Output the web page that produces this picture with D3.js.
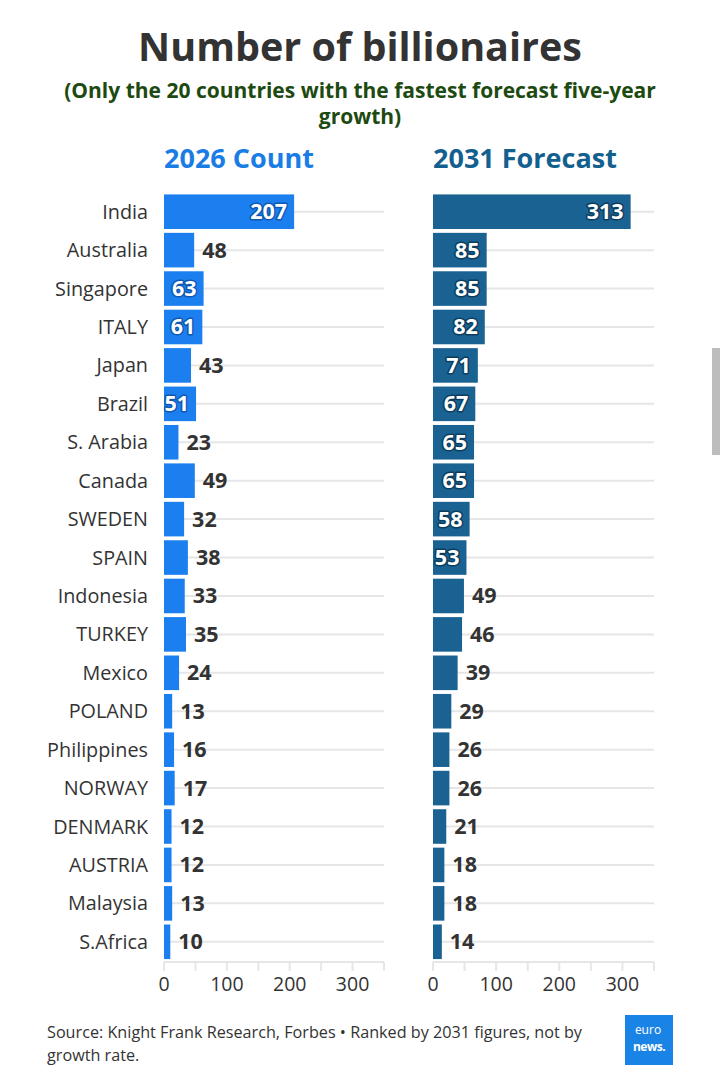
<!DOCTYPE html>
<html><head><meta charset="utf-8">
<script src="https://cdn.jsdelivr.net/npm/d3@7"></script>
<style>
html,body{margin:0;padding:0;background:#fff;}
text{font-family:"Open Sans",sans-serif;}
</style></head>
<body><svg id="c" width="720" height="1091"></svg>
<script>
const countries = ["India","Australia","Singapore","ITALY","Japan","Brazil","S. Arabia","Canada","SWEDEN","SPAIN","Indonesia","TURKEY","Mexico","POLAND","Philippines","NORWAY","DENMARK","AUSTRIA","Malaysia","S.Africa"];
const count2026 = [207,48,63,61,43,51,23,49,32,38,33,35,24,13,16,17,12,12,13,10];
const forecast2031 = [313,85,85,82,71,67,65,65,58,53,49,46,39,29,26,26,21,18,18,14];
const tickValues = [0,100,200,300];
const minorTicks = [0,50,100,150,200,250,300,350];

const svg = d3.select("#c");
svg.append("rect").attr("width",720).attr("height",1091).attr("fill","#fff");

// title
svg.append("text").attr("x",360).attr("y",61).attr("text-anchor","middle")
  .attr("font-size",39.5).attr("font-weight",700).attr("fill","#333").text("Number of billionaires");
svg.append("text").attr("x",360).attr("y",98).attr("text-anchor","middle")
  .attr("font-size",21).attr("font-weight",700).attr("fill","#1d4a10").text("(Only the 20 countries with the fastest forecast five-year");
svg.append("text").attr("x",360).attr("y",124).attr("text-anchor","middle")
  .attr("font-size",21).attr("font-weight",700).attr("fill","#1d4a10").text("growth)");

const y = d3.scaleBand().domain(countries).range([192.5,961]).paddingInner(0.1).paddingOuter(0.05);

const panels = [
  {x0:164, x1:384, data:count2026, color:"#1c7ff0", halo:"#0f58b0", title:"2026 Count", tcolor:"#1a7de6", labels:true},
  {x0:433, x1:654, data:forecast2031, color:"#1a6292", halo:"#0c3d5e", title:"2031 Forecast", tcolor:"#13608f", labels:false}
];

panels.forEach(p=>{
  const x = d3.scaleLinear().domain([0,350]).range([p.x0,p.x1]);
  const g = svg.append("g");
  g.append("text").attr("x",p.x0).attr("y",168).attr("font-size",27).attr("font-weight",700)
    .attr("fill",p.tcolor).text(p.title);
  // grid lines
  g.selectAll(".grid").data(countries).join("line")
    .attr("x1",p.x0).attr("x2",p.x1)
    .attr("y1",d=>y(d)+y.bandwidth()/2).attr("y2",d=>y(d)+y.bandwidth()/2)
    .attr("stroke","#e6e6e6").attr("stroke-width",2);
  // axis
  const ay = 962;
  g.append("line").attr("x1",p.x0).attr("x2",p.x1).attr("y1",ay).attr("y2",ay).attr("stroke","#e6e6e6").attr("stroke-width",2);
  g.selectAll(".mt").data(minorTicks).join("line")
    .attr("x1",d=>x(d)).attr("x2",d=>x(d)).attr("y1",ay).attr("y2",ay+9)
    .attr("stroke","#e6e6e6").attr("stroke-width",2);
  g.selectAll(".tl").data(tickValues).join("text")
    .attr("x",d=>x(d)).attr("y",ay+29).attr("text-anchor","middle")
    .attr("font-size",19.5).attr("fill","#333").text(d=>d);
  // bars
  const rows = countries.map((c,i)=>({c, v:p.data[i]}));
  g.selectAll(".bar").data(rows).join("rect")
    .attr("x",x(0)).attr("y",d=>y(d.c)).attr("width",d=>x(d.v)-x(0)).attr("height",y.bandwidth())
    .attr("fill",p.color);
  // value labels
  g.selectAll(".vl").data(rows).join("text")
    .attr("x",d=> d.v>=50 ? x(d.v)-7 : x(d.v)+8)
    .attr("y",d=>y(d.c)+y.bandwidth()/2+7.5)
    .attr("text-anchor",d=> d.v>=50 ? "end":"start")
    .attr("font-size",21.5).attr("font-weight",700)
    .attr("fill",d=> d.v>=50 ? "#fff":"#333")
    .attr("stroke",d=> d.v>=50 ? p.halo : "none").attr("stroke-width",3)
    .attr("paint-order","stroke").attr("stroke-linejoin","round")
    .text(d=>d.v);
  if(p.labels){
    g.selectAll(".cl").data(countries).join("text")
      .attr("x",148).attr("y",d=>y(d)+y.bandwidth()/2+7)
      .attr("text-anchor","end").attr("font-size",19.8).attr("fill","#333").text(d=>d);
  }
});

// footer
svg.append("text").attr("x",47).attr("y",1038).attr("font-size",16.2).attr("fill","#333")
  .text("Source: Knight Frank Research, Forbes \u2022 Ranked by 2031 figures, not by");
svg.append("text").attr("x",47).attr("y",1061).attr("font-size",16.2).attr("fill","#333").text("growth rate.");
// logo
svg.append("rect").attr("x",625).attr("y",1015).attr("width",48).attr("height",50).attr("fill","#1a84e6");
svg.append("text").attr("x",648).attr("y",1034).attr("text-anchor","middle").attr("font-size",12).attr("fill","#fff").text("euro");
svg.append("text").attr("x",649).attr("y",1051).attr("text-anchor","middle").attr("font-size",12).attr("font-weight",700).attr("fill","#fff").attr("letter-spacing",-0.5).text("news.");
// scrollbar artifact
svg.append("rect").attr("x",712).attr("y",348).attr("width",8).attr("height",107).attr("fill","#bdbdbd");
</script></body></html>
